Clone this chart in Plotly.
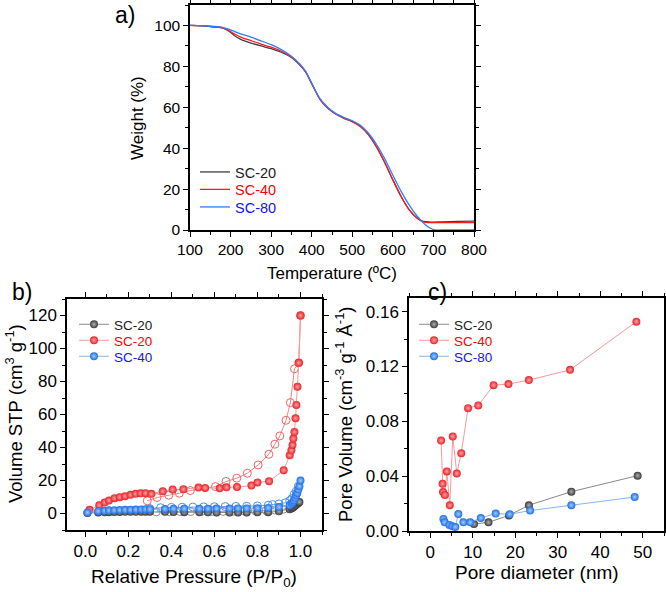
import plotly.graph_objects as go

# ---------------- Panel a: TGA ----------------
tga_T_20 = [100, 150, 180, 195, 210, 225, 250, 275, 300, 325, 350, 370, 385, 400, 420, 440, 460, 480, 500, 520, 540, 560, 580, 600, 620, 640, 660, 675, 690, 720, 760, 800]
tga_W_20 = [100, 99.5, 98.8, 97.3, 95.0, 93.2, 91.4, 90.0, 88.7, 86.9, 84.3, 80.8, 77.3, 71.5, 64.0, 59.5, 56.6, 54.6, 53.0, 50.6, 46.5, 40.5, 33.0, 24.5, 16.5, 10.0, 5.8, 4.2, 3.9, 4.0, 4.2, 4.3]

tga_T_40 = [100, 150, 180, 195, 210, 225, 250, 275, 300, 325, 350, 370, 385, 400, 420, 440, 460, 480, 500, 520, 540, 560, 580, 600, 620, 640, 660, 675, 688, 720, 760, 800]
tga_W_40 = [100, 99.5, 98.8, 97.6, 95.8, 94.3, 92.6, 90.9, 89.4, 87.4, 84.6, 80.9, 77.3, 71.5, 64.0, 59.5, 56.6, 54.6, 53.0, 50.6, 46.5, 40.5, 33.0, 24.5, 16.5, 10.0, 5.8, 4.0, 3.6, 3.6, 3.6, 3.6]

tga_T_80 = [100, 150, 180, 195, 210, 225, 250, 275, 300, 325, 350, 370, 385, 400, 420, 440, 460, 480, 500, 520, 540, 560, 580, 600, 620, 640, 660, 680, 695, 705, 720, 800]
tga_W_80 = [100, 99.6, 99.0, 98.2, 97.0, 95.9, 94.3, 92.5, 90.6, 88.2, 85.0, 81.3, 77.6, 71.8, 64.3, 59.9, 56.9, 55.0, 53.4, 51.2, 47.3, 41.8, 34.8, 26.8, 19.0, 12.3, 6.8, 2.6, 0.6, 0.0, 0.0, 0.0]

# ---------------- Panel b: N2 isotherms ----------------
b20_ads_P = [0.01, 0.06, 0.09, 0.11, 0.135, 0.16, 0.185, 0.21, 0.235, 0.26, 0.28, 0.30, 0.37, 0.41, 0.46, 0.53, 0.57, 0.61, 0.67, 0.71, 0.75, 0.80, 0.85, 0.90, 0.95, 0.96, 0.965, 0.97, 0.975, 0.98, 0.985, 0.99, 0.995]
b20_ads_V = [0.3, 0.6, 0.7, 0.8, 0.9, 0.9, 1.0, 1.0, 1.0, 1.1, 1.1, 1.1, 1.0, 0.9, 0.8, 0.7, 0.7, 0.6, 0.6, 0.6, 0.6, 0.7, 0.8, 1.3, 2.6, 3.2, 3.7, 4.2, 4.8, 5.3, 5.9, 6.5, 7.0]
b20_des_P = [0.99, 0.97, 0.95, 0.92, 0.88, 0.84, 0.79, 0.74, 0.69, 0.64, 0.59, 0.54, 0.49, 0.44, 0.39, 0.33]
b20_des_V = [6.5, 4.6, 3.4, 2.6, 2.1, 1.8, 1.6, 1.5, 1.4, 1.3, 1.3, 1.2, 1.2, 1.2, 1.1, 1.0]

b20r_ads_P = [0.02, 0.065, 0.09, 0.11, 0.136, 0.16, 0.185, 0.21, 0.234, 0.257, 0.28, 0.307, 0.36, 0.406, 0.456, 0.526, 0.557, 0.625, 0.656, 0.705, 0.772, 0.80, 0.854, 0.922, 0.95, 0.958, 0.963, 0.967, 0.972, 0.977, 0.981, 0.986, 0.992, 1.0]
b20r_ads_V = [2.2, 5.0, 6.7, 7.9, 9.3, 9.9, 10.5, 11.3, 11.9, 12.3, 12.3, 11.9, 13.5, 14.5, 14.7, 15.7, 15.5, 15.3, 15.9, 16.1, 16.9, 18.8, 19.6, 26.2, 35.3, 38.3, 41.5, 45.4, 49.4, 57.7, 65.8, 76.8, 91.3, 120.0]
b20r_des_P = [1.0, 0.992, 0.972, 0.953, 0.933, 0.904, 0.881, 0.853, 0.803, 0.753, 0.704, 0.654, 0.605, 0.488, 0.437, 0.388, 0.333, 0.288]
b20r_des_V = [120.0, 91.3, 87.7, 67.2, 56.5, 47.0, 42.0, 35.9, 29.4, 24.4, 21.4, 19.4, 16.3, 13.9, 12.3, 11.1, 9.7, 7.7]

b40_ads_P = [0.01, 0.06, 0.09, 0.11, 0.135, 0.16, 0.185, 0.21, 0.235, 0.26, 0.28, 0.30, 0.37, 0.41, 0.46, 0.53, 0.57, 0.61, 0.67, 0.71, 0.75, 0.80, 0.85, 0.90, 0.95, 0.96, 0.965, 0.97, 0.975, 0.98, 0.985, 0.99, 0.995, 1.0]
b40_ads_V = [0.6, 1.4, 1.7, 1.9, 2.0, 2.1, 2.2, 2.3, 2.4, 2.5, 2.6, 2.6, 2.8, 2.9, 2.9, 2.9, 2.9, 3.0, 3.0, 3.1, 3.1, 3.2, 3.4, 3.9, 5.0, 6.0, 7.0, 8.0, 9.5, 11.0, 12.5, 14.5, 16.5, 20.0]
b40_des_P = [0.99, 0.98, 0.97, 0.96, 0.95, 0.93, 0.90, 0.87, 0.85, 0.80, 0.75, 0.70, 0.65, 0.60, 0.55, 0.50, 0.45, 0.40, 0.35, 0.30]
b40_des_V = [16.5, 13.5, 11.5, 9.0, 7.8, 6.5, 5.8, 5.4, 5.0, 4.6, 4.4, 4.3, 4.2, 4.1, 4.0, 3.9, 3.8, 3.7, 3.5, 3.0]

# ---------------- Panel c: pore size distribution ----------------
c20_D = [10.3, 13.7, 18.5, 23.2, 33.2, 48.8]
c20_V = [0.0051, 0.0063, 0.0114, 0.0188, 0.0287, 0.0404]
c40_D = [2.55, 2.9, 3.0, 3.45, 3.9, 4.6, 5.3, 6.25, 7.3, 8.9, 11.3, 14.9, 18.4, 23.2, 32.9, 48.5]
c40_V = [0.0660, 0.0345, 0.0285, 0.0263, 0.0435, 0.0187, 0.0690, 0.0420, 0.0568, 0.0896, 0.0916, 0.1064, 0.1072, 0.1101, 0.1176, 0.1527]
c80_D = [3.1, 3.4, 4.5, 5.2, 5.9, 6.6, 7.8, 9.4, 11.9, 15.4, 18.7, 23.5, 33.2, 48.1]
c80_V = [0.0088, 0.0063, 0.0044, 0.0034, 0.0029, 0.0124, 0.0063, 0.0063, 0.0095, 0.0127, 0.0122, 0.0149, 0.0188, 0.0248]

FONT = "Liberation Sans, Arial, sans-serif"
BLK, RED, BLU = "#3a3a3a", "#e8232a", "#1e6ee6"
BLK_C, RED_C, BLU_C = "#b0b0b0", "#ffa0a0", "#a0ccff"
BLK_L, RED_L, BLU_L = "#8a8a8a", "#f59a9a", "#86b4f0"
TXT_K, TXT_R, TXT_B = "#222222", "#ff0000", "#1414ff"

W, H = 666, 592
def px(x):
    return x / W
def py(y):
    return 1 - y / H

fig = go.Figure()
legends = {}
def leg(idx, x, ytop, color, size):
    key = "legend" if idx == 1 else "legend%d" % idx
    legends[key] = dict(x=px(x), y=py(ytop), xanchor="left", yanchor="top", bgcolor="rgba(0,0,0,0)",
                        font=dict(family=FONT, size=size, color=color), itemwidth=30, tracegroupgap=0)
    return key

# panel a
a_rows = [173, 190.5, 208]
for i, (T, Wt, col, name, tc) in enumerate([(tga_T_20, tga_W_20, "#404040", "SC-20", TXT_K),
                                             (tga_T_40, tga_W_40, "#ff1a1a", "SC-40", TXT_R),
                                             (tga_T_80, tga_W_80, "#2a7fff", "SC-80", TXT_B)]):
    lk = leg(1 + i, 195, a_rows[i] - 17, tc, 14.5)
    fig.add_trace(go.Scatter(x=T, y=Wt, mode="lines", line=dict(color=col, width=1.3, shape="spline", smoothing=0.6),
                             name=name, xaxis="x", yaxis="y", legend=lk))

# panel b desorption (open)
for P, V, col in [(b20_des_P, b20_des_V, BLK_L), (b20r_des_P, b20r_des_V, "#f06464"), (b40_des_P, b40_des_V, "#4a90e8")]:
    fig.add_trace(go.Scatter(x=P, y=V, mode="lines+markers", showlegend=False,
                             line=dict(color=col, width=0.8),
                             marker=dict(symbol="circle-open", size=8, color=col, line=dict(width=1)),
                             xaxis="x2", yaxis="y2"))
# panel b adsorption (filled)
bc_rows = [323, 339, 355]
for i, (P, V, col, cc, lc, name, tc) in enumerate([(b20_ads_P, b20_ads_V, BLK, BLK_C, BLK_L, "SC-20", TXT_K),
                                                    (b20r_ads_P, b20r_ads_V, RED, RED_C, RED_L, "SC-20", TXT_R),
                                                    (b40_ads_P, b40_ads_V, BLU, BLU_C, BLU_L, "SC-40", TXT_B)]):
    lk = leg(4 + i, 74, bc_rows[i] - 14, tc, 13.5)
    fig.add_trace(go.Scatter(x=P, y=V, mode="lines+markers", name=name,
                             line=dict(color=lc, width=1),
                             marker=dict(size=8, color=col, gradient=dict(type="radial", color=cc), line=dict(width=0)),
                             xaxis="x2", yaxis="y2", legend=lk))

# panel c
for i, (D, V, col, cc, lc, name, tc) in enumerate([(c20_D, c20_V, BLK, BLK_C, BLK_L, "SC-20", TXT_K),
                                                    (c40_D, c40_V, RED, RED_C, RED_L, "SC-40", TXT_R),
                                                    (c80_D, c80_V, BLU, BLU_C, BLU_L, "SC-80", TXT_B)]):
    lk = leg(7 + i, 414, bc_rows[i] - 14, tc, 13.5)
    fig.add_trace(go.Scatter(x=D, y=V, mode="lines+markers", name=name,
                             line=dict(color=lc, width=1),
                             marker=dict(size=8, color=col, gradient=dict(type="radial", color=cc), line=dict(width=0)),
                             xaxis="x3", yaxis="y3", legend=lk))

def ax(domain, rng, dtick, minor, fs, anchor, fmt=None):
    d = dict(domain=domain, range=rng, dtick=dtick, tick0=0, showgrid=False, zeroline=False,
             showline=True, linecolor="black", linewidth=1.5, mirror="ticks",
             ticks="outside", ticklen=5, tickwidth=1.3, tickcolor="black",
             minor=dict(dtick=minor, tick0=0, ticks="outside", ticklen=3, tickwidth=1, tickcolor="black", showgrid=False),
             tickfont=dict(family=FONT, size=fs, color="black"), anchor=anchor, automargin=False)
    if fmt:
        d["tickformat"] = fmt
    return d

fig.update_layout(
    width=W, height=H, margin=dict(l=0, r=0, t=0, b=0),
    paper_bgcolor="white", plot_bgcolor="white",
    font=dict(family=FONT, color="black"),
    xaxis=ax([px(190), px(474)], [100, 800], 100, 50, 15.5, "y"),
    yaxis=ax([py(230), py(5)], [0, 110], 20, 10, 15.5, "x"),
    xaxis2=ax([px(67), px(322)], [-0.085, 1.1], 0.2, 0.1, 17, "y2", ".1f"),
    yaxis2=ax([py(530), py(299)], [-10, 130], 20, 10, 17, "x2"),
    xaxis3=ax([px(409), px(664)], [-5, 55], 10, 5, 17, "y3"),
    yaxis3=ax([py(531), py(298)], [0, 0.17], 0.04, 0.02, 17, "x3", ".2f"),
    **legends,
)

annos = [
    ("a)", 125, 15, 23, 0),
    ("b)", 22, 292, 23, 0),
    ("c)", 437, 292, 23, 0),
    ("Weight (%)", 137, 118, 17, -90),
    ("Temperature (ºC)", 332, 273, 17, 0),
    ("Volume STP (cm<sup>3</sup> g<sup>-1</sup>)", 14, 414, 18.5, -90),
    ("Relative Pressure (P/P<sub>0</sub>)", 194, 578, 19, 0),
    ("Pore Volume (cm<sup>-3</sup> g<sup>-1</sup> Å<sup>-1</sup>)", 344, 414, 18.5, -90),
    ("Pore diameter (nm)", 537, 572, 19, 0),
]
for t, x, y, s, a in annos:
    fig.add_annotation(text=t, x=px(x), y=py(y), xref="paper", yref="paper", showarrow=False,
                       xanchor="center", yanchor="middle", textangle=a,
                       font=dict(family=FONT, size=s, color="black"))

fig.write_html("out.html")
